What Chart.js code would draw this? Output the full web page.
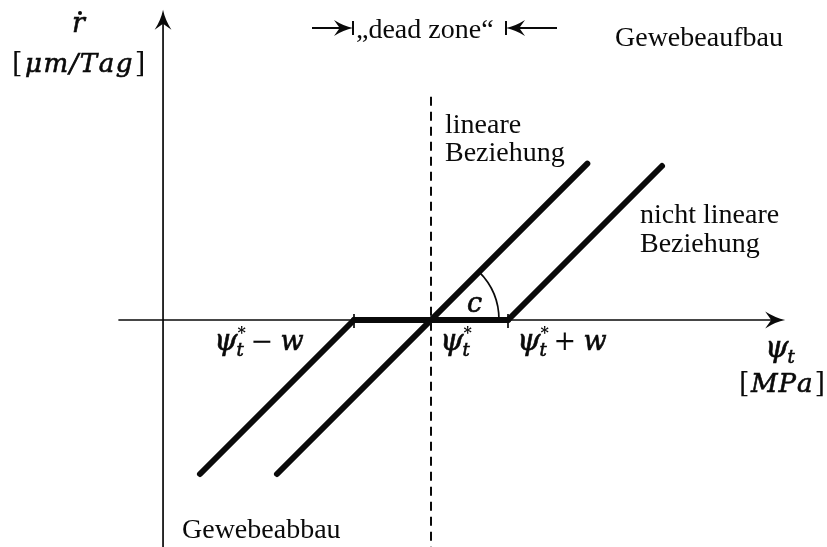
<!DOCTYPE html>
<html>
<head>
<meta charset="utf-8">
<script src="https://cdn.jsdelivr.net/npm/chart.js@4.4.1/dist/chart.umd.min.js"></script>
<style>
  html, body { margin: 0; padding: 0; background: #fff; }
  canvas { display: block; }
</style>
</head>
<body>
<canvas id="chart" width="827" height="547"></canvas>
<script>
// growth rate vs. water potential, in units of w (dead zone half width)
const leftX = [-3, -1];
const leftY = [-2, 0];
const linearX = [-2, 2.03];
const linearY = [-2, 2.03];
const rightX = [1, 3];
const rightY = [0, 2];
const zoneX = [-1, 1];
const zoneY = [0, 0];

const tickValues = [-1, 0, 1];
const xAxisRange = [-4.06, 4.6];
const yAxisRange = [-3, 4.03];
const yAxisAt = -3.48;
const dashTop = 2.9;

const INK = '#0a0a0a';
const SERIF = '"Liberation Serif", "DejaVu Serif", serif';
const MATH = '"DejaVu Serif", "Liberation Serif", serif';

function pts(xs, ys) {
  return xs.map((x, i) => ({x, y: ys[i]}));
}

function line(data) {
  return {
    data,
    showLine: true,
    borderColor: INK,
    borderWidth: 6,
    borderCapStyle: 'round',
    pointRadius: 0,
    fill: false
  };
}

function arrowHead(ctx, x, y, angle, size) {
  ctx.save();
  ctx.translate(x, y);
  ctx.rotate(angle);
  ctx.beginPath();
  ctx.moveTo(0, 0);
  ctx.quadraticCurveTo(-size * 0.5, -size * 0.1, -size, -size * 0.42);
  ctx.lineTo(-size * 0.7, 0);
  ctx.lineTo(-size, size * 0.42);
  ctx.quadraticCurveTo(-size * 0.5, size * 0.1, 0, 0);
  ctx.closePath();
  ctx.fill();
  ctx.restore();
}

// heavier glyphs, closer to the printed math font
function heavy(ctx, str, x, base) {
  ctx.lineWidth = 0.6;
  ctx.fillText(str, x, base);
  ctx.strokeText(str, x, base);
}

// italic psi with optional star and subscript t, returns end x
function psi(ctx, x, base, star) {
  ctx.font = 'italic 30px ' + MATH;
  heavy(ctx, 'ψ', x, base);
  const w = ctx.measureText('ψ').width;
  if (star) {
    ctx.font = 'bold 16px ' + MATH;
    ctx.fillText('*', x + w, base - 12);
  }
  ctx.font = 'italic 18px ' + MATH;
  heavy(ctx, 't', x + w - 1, base + 6);
  return x + w + 9;
}

function spaced(ctx, str, x, base, gap) {
  for (const ch of str) {
    heavy(ctx, ch, x, base);
    x += ctx.measureText(ch).width + gap;
  }
  return x;
}

const annotations = {
  id: 'annotations',
  beforeDraw(chart) {
    const ctx = chart.ctx;
    ctx.save();
    ctx.fillStyle = '#fff';
    ctx.fillRect(0, 0, chart.width, chart.height);
    ctx.restore();
  },
  afterDatasetsDraw(chart) {
    const ctx = chart.ctx;
    const xs = chart.scales.x;
    const ys = chart.scales.y;
    const px = v => xs.getPixelForValue(v);
    const py = v => ys.getPixelForValue(v);
    const x0 = px(0);
    const y0 = py(0);

    ctx.save();
    ctx.strokeStyle = INK;
    ctx.fillStyle = INK;
    ctx.textBaseline = 'alphabetic';

    // axes
    ctx.lineWidth = 1.7;
    ctx.beginPath();
    ctx.moveTo(px(xAxisRange[0]), y0);
    ctx.lineTo(px(xAxisRange[1]) - 4, y0);
    ctx.moveTo(px(yAxisAt), py(yAxisRange[0]));
    ctx.lineTo(px(yAxisAt), py(yAxisRange[1]) + 4);
    ctx.stroke();
    arrowHead(ctx, px(xAxisRange[1]), y0, 0, 20);
    arrowHead(ctx, px(yAxisAt), py(yAxisRange[1]), -Math.PI / 2, 20);

    // ticks at psi* - w and psi* + w
    [tickValues[0], tickValues[2]].forEach(v => {
      ctx.beginPath();
      ctx.moveTo(px(v), y0 - 6);
      ctx.lineTo(px(v), y0 + 8);
      ctx.stroke();
    });

    // dashed line through psi*
    ctx.lineWidth = 2;
    ctx.setLineDash([9, 6]);
    ctx.beginPath();
    ctx.moveTo(x0, py(dashTop));
    ctx.lineTo(x0, chart.height);
    ctx.stroke();
    ctx.setLineDash([]);

    // angle arc c
    ctx.lineWidth = 1.7;
    ctx.beginPath();
    ctx.arc(x0, y0, 68, -Math.PI / 4, 0);
    ctx.stroke();
    ctx.font = 'italic 27px ' + MATH;
    heavy(ctx, 'c', 467, 312);

    // dead zone marker
    const barL = px(tickValues[0]) - 1;
    const barR = px(tickValues[2]) - 2;
    const yz = 28;
    ctx.lineWidth = 2;
    ctx.beginPath();
    ctx.moveTo(312, yz);
    ctx.lineTo(barL - 4, yz);
    ctx.moveTo(barL, yz - 7);
    ctx.lineTo(barL, yz + 7);
    ctx.moveTo(barR, yz - 7);
    ctx.lineTo(barR, yz + 7);
    ctx.moveTo(barR + 4, yz);
    ctx.lineTo(557, yz);
    ctx.stroke();
    arrowHead(ctx, barL, yz, 0, 19);
    arrowHead(ctx, barR, yz, Math.PI, 19);

    // text labels
    ctx.font = '28px ' + SERIF;
    ctx.fillText('\u201Edead zone\u201C', barL + 3, 38);
    ctx.fillText('Gewebeaufbau', 615, 46);
    ctx.fillText('Gewebeabbau', 182, 538);
    ctx.fillText('lineare', 445, 133);
    ctx.fillText('Beziehung', 445, 161);
    ctx.fillText('nicht lineare', 640, 223);
    ctx.fillText('Beziehung', 640, 252);

    // y axis label
    ctx.font = 'italic 27px ' + MATH;
    heavy(ctx, 'r', 72, 32);
    ctx.beginPath();
    ctx.arc(80, 13, 2, 0, Math.PI * 2);
    ctx.fill();
    ctx.font = '27px ' + MATH;
    ctx.fillText('[', 12, 72);
    ctx.font = 'italic 26px ' + MATH;
    let e = spaced(ctx, '\u03BCm/Tag', 25, 72, 1.5);
    ctx.font = '27px ' + MATH;
    ctx.fillText(']', e + 1, 72);

    // x axis label
    psi(ctx, 765, 357, false);
    ctx.font = '27px ' + MATH;
    ctx.fillText('[', 739, 392);
    ctx.font = 'italic 26px ' + MATH;
    e = spaced(ctx, 'MPa', 751, 392, 1);
    ctx.font = '27px ' + MATH;
    ctx.fillText(']', e + 1, 392);

    // tick labels
    e = psi(ctx, 214, 350, true);
    ctx.font = '27px ' + MATH;
    ctx.fillText('\u2212', e + 4, 350);
    ctx.font = 'italic 27px ' + MATH;
    heavy(ctx, 'w', e + 34, 350);

    psi(ctx, x0 + 9, 350, true);

    e = psi(ctx, 517, 350, true);
    ctx.font = '27px ' + MATH;
    ctx.fillText('+', e + 4, 350);
    ctx.font = 'italic 27px ' + MATH;
    heavy(ctx, 'w', e + 34, 350);

    ctx.restore();
  }
};

new Chart(document.getElementById('chart'), {
  type: 'scatter',
  data: {
    datasets: [
      line(pts(leftX, leftY)),
      line(pts(linearX, linearY)),
      line(pts(rightX, rightY)),
      line(pts(zoneX, zoneY))
    ]
  },
  options: {
    responsive: false,
    animation: false,
    layout: {padding: 0},
    plugins: {
      legend: {display: false},
      tooltip: {enabled: false}
    },
    scales: {
      x: {type: 'linear', display: false, min: -431 / 77, max: 396 / 77},
      y: {type: 'linear', display: false, min: -227 / 77, max: 320 / 77}
    }
  },
  plugins: [annotations]
});
</script>
</body>
</html>
